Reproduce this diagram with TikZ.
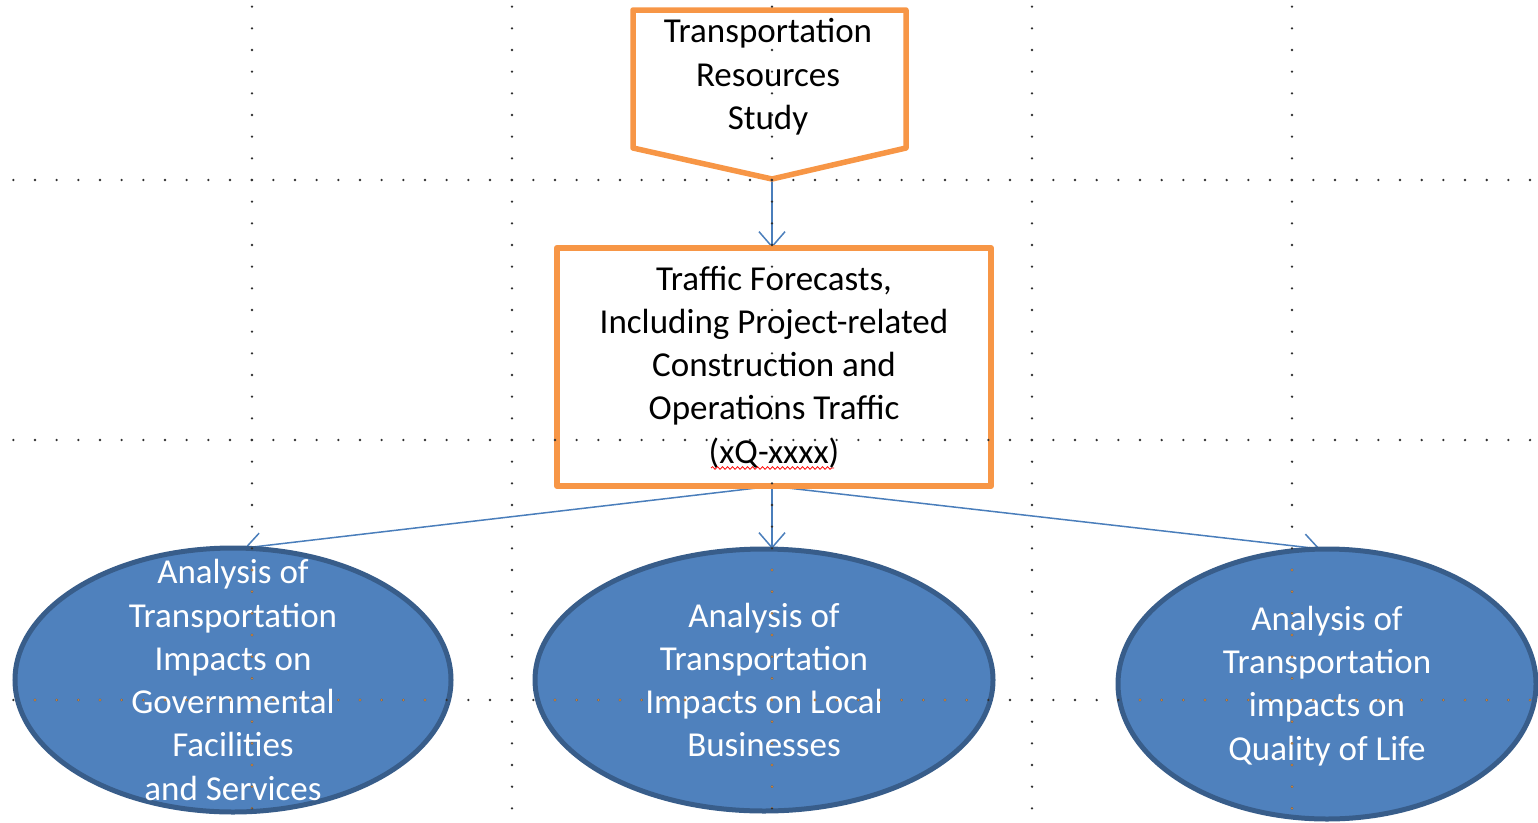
\documentclass[tikz,border=0pt]{standalone}
\usepackage{fontspec}
\setmainfont{Carlito}
\usetikzlibrary{arrows.meta,shapes.geometric,decorations.pathmorphing}
\definecolor{orng}{HTML}{F79646}
\definecolor{bfill}{HTML}{4F81BD}
\definecolor{bline}{HTML}{385D8A}
\definecolor{conn}{HTML}{4A7EBB}
\definecolor{dotc}{HTML}{303030}
\definecolor{dotor}{HTML}{C08040}
\newcommand\drawgriddots[1]{%
  \foreach \yy in {180,440,700}{\foreach \i in {0,...,70}{\fill[#1] ({13.33+\i*21.667},\yy) circle (1.3);}}%
  \foreach \xx in {252,512,772,1032,1292}{\foreach \i in {0,...,37}{\fill[#1] (\xx,{6.67+\i*21.667}) circle (1.3);}}%
}
\begin{document}
\begin{tikzpicture}[x=1pt,y=-1pt,
  txt/.style={align=center,font=\fontsize{35}{43.3}\selectfont,inner sep=0pt},
  obox/.style={draw=orng,line width=5.5pt,fill=white,line join=round},
  ell/.style={ellipse,draw=bline,fill=bfill,line width=5pt,inner sep=0pt},
  etxt/.style={txt,text=white},
  link/.style={draw=conn,line width=1.5pt,-{Straight Barb[length=15pt,width=26pt,line width=1.5pt]}}]
\useasboundingbox (0,0) rectangle (1538,822);
% top off-page shape
\coordinate (t1) at (633,10);
\coordinate (t2) at (906,10);
\coordinate (t3) at (906,148);
\coordinate (tip) at (772,179);
\coordinate (t4) at (633,148);
% shape outlines as named nodes (drawn later)
\node[rectangle,minimum width=434pt,minimum height=238pt,inner sep=0pt] (mid) at (774,367) {};
\node[ellipse,inner sep=0pt,minimum width=436pt,minimum height=264pt] (L) at (233,680) {};
\node[ellipse,inner sep=0pt,minimum width=458pt,minimum height=262pt] (M) at (764,680) {};
\node[ellipse,inner sep=0pt,minimum width=418pt,minimum height=270pt] (R) at (1327,684) {};
% connectors (behind shapes)
\draw[link] (tip) -- (tip |- mid.north);
\draw[link] (mid.south -| tip) -- (L.85);
\draw[link] (mid.south -| tip) -- (tip |- M.north);
\draw[link] (mid.south -| tip) -- (R.93);
% shapes
\draw[obox] (t1) -- (t2) -- (t3) -- (tip) -- (t4) -- cycle;
\node[txt] (toptext) at (768,77) {Transportation\\Resources\\Study};
\draw[obox] (mid.north west) rectangle (mid.south east);
\node[txt] (midtext) at (mid.center) {Traffic Forecasts,\\Including Project-related\\Construction and\\Operations Traffic\\(xQ-xxxx)};
\draw[red,line width=0.8pt,decorate,decoration={snake,segment length=5pt,amplitude=1.3pt}] (711,468) -- (834,468);
\draw[ell] (L.center) ellipse [x radius=218, y radius=132];
\draw[ell] (M.center) ellipse [x radius=229, y radius=131];
\draw[ell] (R.center) ellipse [x radius=209, y radius=135];
\node[etxt] (Ltext) at (L.center) {Analysis of\\Transportation\\Impacts on\\Governmental\\Facilities\\and Services};
\node[etxt] (Mtext) at (M.center) {Analysis of\\Transportation\\Impacts on Local\\Businesses};
\node[etxt] (Rtext) at ([yshift=-2pt]R.center) {Analysis of\\Transportation\\impacts on\\Quality of Life};
% grid dots on top
\drawgriddots{dotc}
\begin{scope}\clip (233,680) ellipse [x radius=215, y radius=129];\drawgriddots{dotor}\end{scope}
\begin{scope}\clip (764,680) ellipse [x radius=226, y radius=128];\drawgriddots{dotor}\end{scope}
\begin{scope}\clip (1327,684) ellipse [x radius=206, y radius=132];\drawgriddots{dotor}\end{scope}
\end{tikzpicture}
\end{document}
